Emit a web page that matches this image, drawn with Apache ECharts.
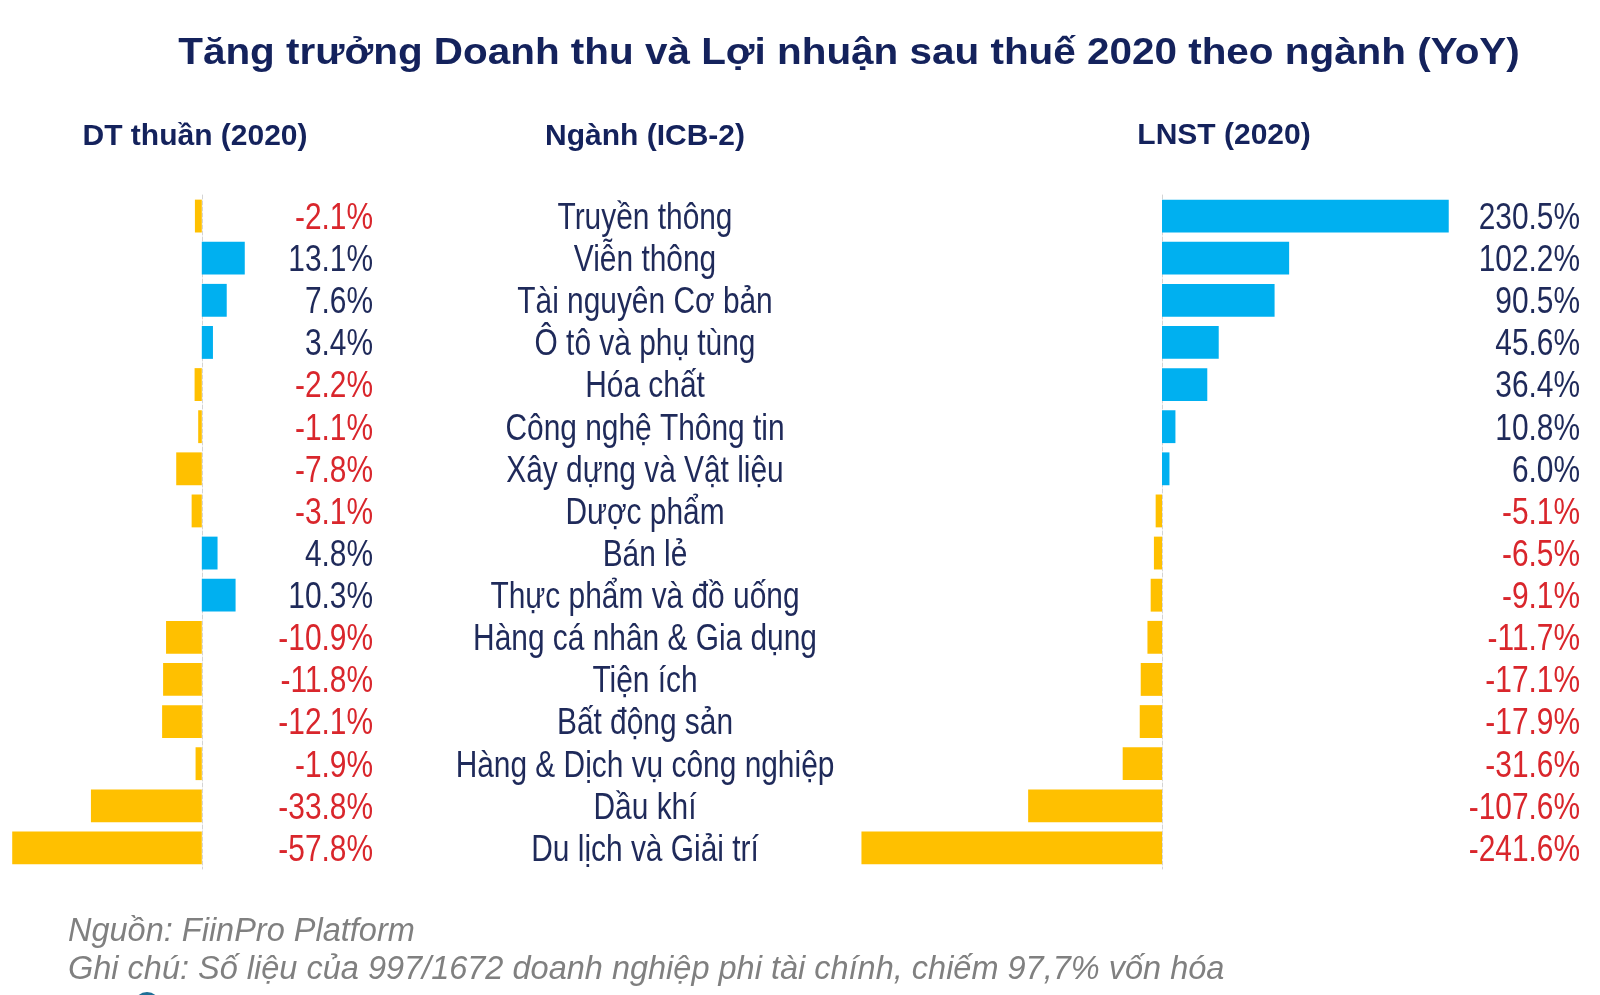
<!DOCTYPE html>
<html>
<head>
<meta charset="utf-8">
<script src="https://cdn.jsdelivr.net/npm/echarts@6/dist/echarts.min.js"></script>
<style>
  html, body { margin: 0; padding: 0; background: #ffffff; }
  #chart { width: 1600px; height: 995px; }
</style>
</head>
<body>
<div id="chart"></div>
<script>
// ---- Data ----
const categories = [
  'Truyền thông', 'Viễn thông', 'Tài nguyên Cơ bản', 'Ô tô và phụ tùng', 'Hóa chất',
  'Công nghệ Thông tin', 'Xây dựng và Vật liệu', 'Dược phẩm', 'Bán lẻ', 'Thực phẩm và đồ uống',
  'Hàng cá nhân & Gia dụng', 'Tiện ích', 'Bất động sản', 'Hàng & Dịch vụ công nghiệp',
  'Dầu khí', 'Du lịch và Giải trí'
];
const revenueGrowth = [-2.1, 13.1, 7.6, 3.4, -2.2, -1.1, -7.8, -3.1, 4.8, 10.3, -10.9, -11.8, -12.1, -1.9, -33.8, -57.8];
const profitGrowth = [230.5, 102.2, 90.5, 45.6, 36.4, 10.8, 6.0, -5.1, -6.5, -9.1, -11.7, -17.1, -17.9, -31.6, -107.6, -241.6];

const titleText = 'Tăng trưởng Doanh thu và Lợi nhuận sau thuế 2020 theo ngành (YoY)';
const headerRevenue = 'DT thuần (2020)';
const headerSector = 'Ngành (ICB-2)';
const headerProfit = 'LNST (2020)';
const footnoteSource = 'Nguồn: FiinPro Platform';
const footnoteNote = 'Ghi chú: Số liệu của 997/1672 doanh nghiệp phi tài chính, chiếm 97,7% vốn hóa';

// ---- Styles ----
const BLUE = '#00b0f0';
const YELLOW = '#ffc000';
const NAVY = '#14225c';
const TEXT_NAVY = '#1f2a5a';
const RED = '#d9262c';
const FONT = '"Liberation Sans", Arial, sans-serif';
const BODY_FONT = '36px ' + FONT;
const NARROW = 0.83;

const fmt = v => v.toFixed(1) + '%';

const chart = echarts.init(document.getElementById('chart'), null, { renderer: 'canvas' });

const barAxis = (gridIndex) => ({
  gridIndex, type: 'category', data: categories, inverse: true,
  axisLine: { show: true, onZero: true, lineStyle: { color: '#d4d4d4', type: 'dashed', width: 1 } },
  axisTick: { show: false }, axisLabel: { show: false }, splitLine: { show: false }
});

// text column drawn through the category axis (y) of a grid
function labelSeries(xAxisIndex, yAxisIndex, values, textOf, colorOf, align, offsetFn) {
  return {
    type: 'custom', coordinateSystem: 'cartesian2d', xAxisIndex, yAxisIndex, silent: true,
    data: values.map((v, i) => [v, i]),
    encode: { x: 0, y: 1 },
    renderItem: (params, api) => {
      const idx = api.value(1);
      const pt = api.coord([0, idx]);
      const cs = params.coordSys;
      return {
        type: 'text',
        x: offsetFn(cs), y: pt[1] + 3,
        scaleX: NARROW,
        style: {
          text: textOf(idx), font: BODY_FONT, fill: colorOf(idx),
          align, verticalAlign: 'middle', textAlign: align, textVerticalAlign: 'middle'
        }
      };
    }
  };
}

const option = {
  backgroundColor: '#ffffff',
  animation: false,
  grid: [
    { left: 5, top: 195, width: 246, height: 674 },
    { left: 851, top: 195, width: 622, height: 674 }
  ],
  xAxis: [
    { gridIndex: 0, type: 'value', min: -60, max: 15, show: false },
    { gridIndex: 1, type: 'value', min: -250, max: 250, show: false }
  ],
  yAxis: [barAxis(0), barAxis(1)],
  series: [
    {
      type: 'bar', name: headerRevenue, xAxisIndex: 0, yAxisIndex: 0,
      data: revenueGrowth, barCategoryGap: '22%',
      itemStyle: { color: p => (p.value < 0 ? YELLOW : BLUE) }, silent: true
    },
    {
      type: 'bar', name: headerProfit, xAxisIndex: 1, yAxisIndex: 1,
      data: profitGrowth, barCategoryGap: '22%',
      itemStyle: { color: p => (p.value < 0 ? YELLOW : BLUE) }, silent: true
    },
    labelSeries(0, 0, revenueGrowth,
      i => fmt(revenueGrowth[i]),
      i => (revenueGrowth[i] < 0 ? RED : TEXT_NAVY),
      'right', cs => cs.x + cs.width + 122),
    labelSeries(1, 1, profitGrowth,
      i => categories[i],
      i => TEXT_NAVY,
      'center', cs => cs.x - 206),
    labelSeries(1, 1, profitGrowth,
      i => fmt(profitGrowth[i]),
      i => (profitGrowth[i] < 0 ? RED : TEXT_NAVY),
      'right', cs => cs.x + cs.width + 107)
  ],
  graphic: [
    {
      type: 'text', x: 849, y: 54, scaleX: 1.123, scaleY: 1,
      style: { text: titleText, fill: NAVY, font: 'bold 36px ' + FONT, textAlign: 'center', textVerticalAlign: 'middle' }
    },
    {
      type: 'text', x: 195, y: 137,
      style: { text: headerRevenue, fill: NAVY, font: 'bold 30px ' + FONT, textAlign: 'center', textVerticalAlign: 'middle' }
    },
    {
      type: 'text', x: 645, y: 137,
      style: { text: headerSector, fill: NAVY, font: 'bold 30px ' + FONT, textAlign: 'center', textVerticalAlign: 'middle' }
    },
    {
      type: 'text', x: 1224, y: 136,
      style: { text: headerProfit, fill: NAVY, font: 'bold 30px ' + FONT, textAlign: 'center', textVerticalAlign: 'middle' }
    },
    {
      type: 'text', x: 68, y: 932,
      style: { text: footnoteSource, fill: '#808080', font: 'italic 32.5px ' + FONT, textAlign: 'left', textVerticalAlign: 'middle' }
    },
    {
      type: 'text', x: 68, y: 970,
      style: { text: footnoteNote, fill: '#808080', font: 'italic 32.5px ' + FONT, textAlign: 'left', textVerticalAlign: 'middle' }
    },
    {
      type: 'circle', shape: { cx: 147, cy: 1005, r: 13 },
      style: { fill: '#1f6f96' }
    }
  ]
};
chart.setOption(option);
</script>
</body>
</html>
